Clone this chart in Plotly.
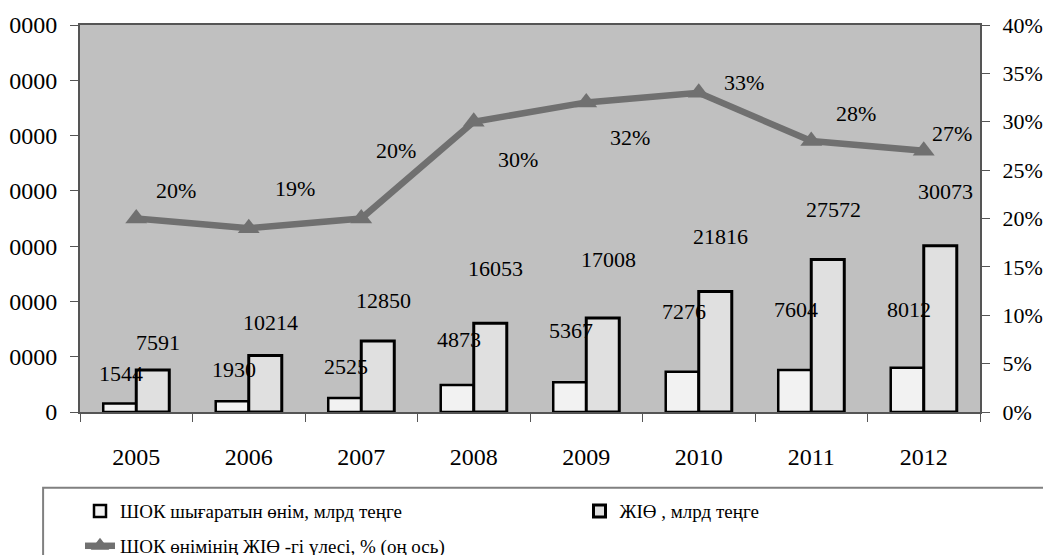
import plotly.graph_objects as go

years = ["2005", "2006", "2007", "2008", "2009", "2010", "2011", "2012"]
shok_output = [1544, 1930, 2525, 4873, 5367, 7276, 7604, 8012]
gdp = [7591, 10214, 12850, 16053, 17008, 21816, 27572, 30073]
share_pct = [20, 19, 20, 30, 32, 33, 28, 27]

name_shok = "ШОК шығаратын өнім, млрд теңге"
name_gdp = "ЖІӨ , млрд теңге"
name_share = "ШОК өнімінің ЖІӨ -гі үлесі, % (оң ось)"

left_tickvals = [0, 10000, 20000, 30000, 40000, 50000, 60000, 70000]
left_ticktext = ["0", "0000", "0000", "0000", "0000", "0000", "0000", "0000"]
right_tickvals = [0, 5, 10, 15, 20, 25, 30, 35, 40]
right_ticktext = [f"{v}%" for v in right_tickvals]

FONT = "Liberation Serif, Times New Roman, DejaVu Serif, serif"

fig = go.Figure()
fig.add_trace(go.Bar(x=years, y=shok_output, name=name_shok,
                     marker=dict(color="#f2f2f2", line=dict(color="black", width=2.5)),
                     legend="legend", showlegend=True))
fig.add_trace(go.Bar(x=years, y=gdp, name=name_gdp,
                     marker=dict(color="#e0e0e0", line=dict(color="black", width=3)),
                     legend="legend2", showlegend=True))
fig.add_trace(go.Scatter(x=years, y=share_pct, name=name_share, yaxis="y2",
                         mode="lines+markers",
                         line=dict(color="#707070", width=6.5),
                         marker=dict(symbol="triangle-up", size=19, color="#707070"),
                         legend="legend3", showlegend=True))

# label styling offsets (pixels)
shok_yshift = [30, 32, 32, 46, 52, 60, 60, 58]
gdp_yshift = [28, 33, 40, 55, 58, 55, 50, 54]
pct_shift = [(40, 28), (46, 40), (35, 68), (44, -38), (44, -35), (45, 10), (45, 28), (28, 17)]

annotations = []
for i, yr in enumerate(years):
    annotations.append(dict(x=i, y=shok_output[i], xref="x", yref="y", text=str(shok_output[i]),
                            showarrow=False, xshift=-15, yshift=shok_yshift[i],
                            font=dict(family=FONT, size=22, color="black")))
    annotations.append(dict(x=i, y=gdp[i], xref="x", yref="y", text=str(gdp[i]),
                            showarrow=False, xshift=22, yshift=gdp_yshift[i],
                            font=dict(family=FONT, size=22, color="black")))
    dx, dy = pct_shift[i]
    annotations.append(dict(x=i, y=share_pct[i], xref="x", yref="y2", text=f"{share_pct[i]}%",
                            showarrow=False, xshift=dx, yshift=dy,
                            font=dict(family=FONT, size=22, color="black")))

# the page body adds an 8px offset, so the figure is 8px smaller in each direction
fig.update_layout(
    width=1043, height=547,
    margin=dict(l=72, r=71, t=17, b=143, autoexpand=False),
    paper_bgcolor="white",
    plot_bgcolor="#c0c0c0",
    barmode="group",
    bargap=0.413,
    bargroupgap=0,
    showlegend=True,
    font=dict(family=FONT, size=20, color="black"),
    annotations=annotations,
    xaxis=dict(type="category", range=[-0.5, 7.5], showgrid=False, showline=True,
               linecolor="#555555", linewidth=2, automargin=False,
               ticks="outside", tickson="boundaries", ticklen=8, tickcolor="#555555",
               tickfont=dict(family=FONT, size=24), tickangle=0, mirror=True,
               ticklabelstandoff=22),
    yaxis=dict(range=[0, 70000], tickvals=left_tickvals, ticktext=left_ticktext,
               showgrid=False, showline=True, linecolor="#555555", linewidth=2,
               automargin=False,
               ticks="outside", ticklen=8, tickcolor="#555555", zeroline=False,
               tickfont=dict(family=FONT, size=24), ticklabelstandoff=8),
    yaxis2=dict(range=[0, 40], overlaying="y", side="right", tickvals=right_tickvals,
                ticktext=right_ticktext, showgrid=False, showline=True, linecolor="#555555",
                linewidth=2, automargin=False, ticks="outside", ticklen=8,
                tickcolor="#555555", zeroline=False,
                tickfont=dict(family=FONT, size=22), ticklabelstandoff=8),
    legend=dict(x=0.0, y=-0.207, xanchor="left", yanchor="top", bgcolor="rgba(0,0,0,0)",
                font=dict(family=FONT, size=19), visible=True),
    legend2=dict(x=0.555, y=-0.207, xanchor="left", yanchor="top", bgcolor="rgba(0,0,0,0)",
                 font=dict(family=FONT, size=19)),
    legend3=dict(x=0.0, y=-0.297, xanchor="left", yanchor="top", bgcolor="rgba(0,0,0,0)",
                 font=dict(family=FONT, size=19)),
    shapes=[dict(type="rect", xref="paper", yref="paper", x0=-0.041, x1=1.072,
                 y0=-0.45, y1=-0.196, line=dict(color="#808080", width=2))],
)

fig.write_html("out.html")
